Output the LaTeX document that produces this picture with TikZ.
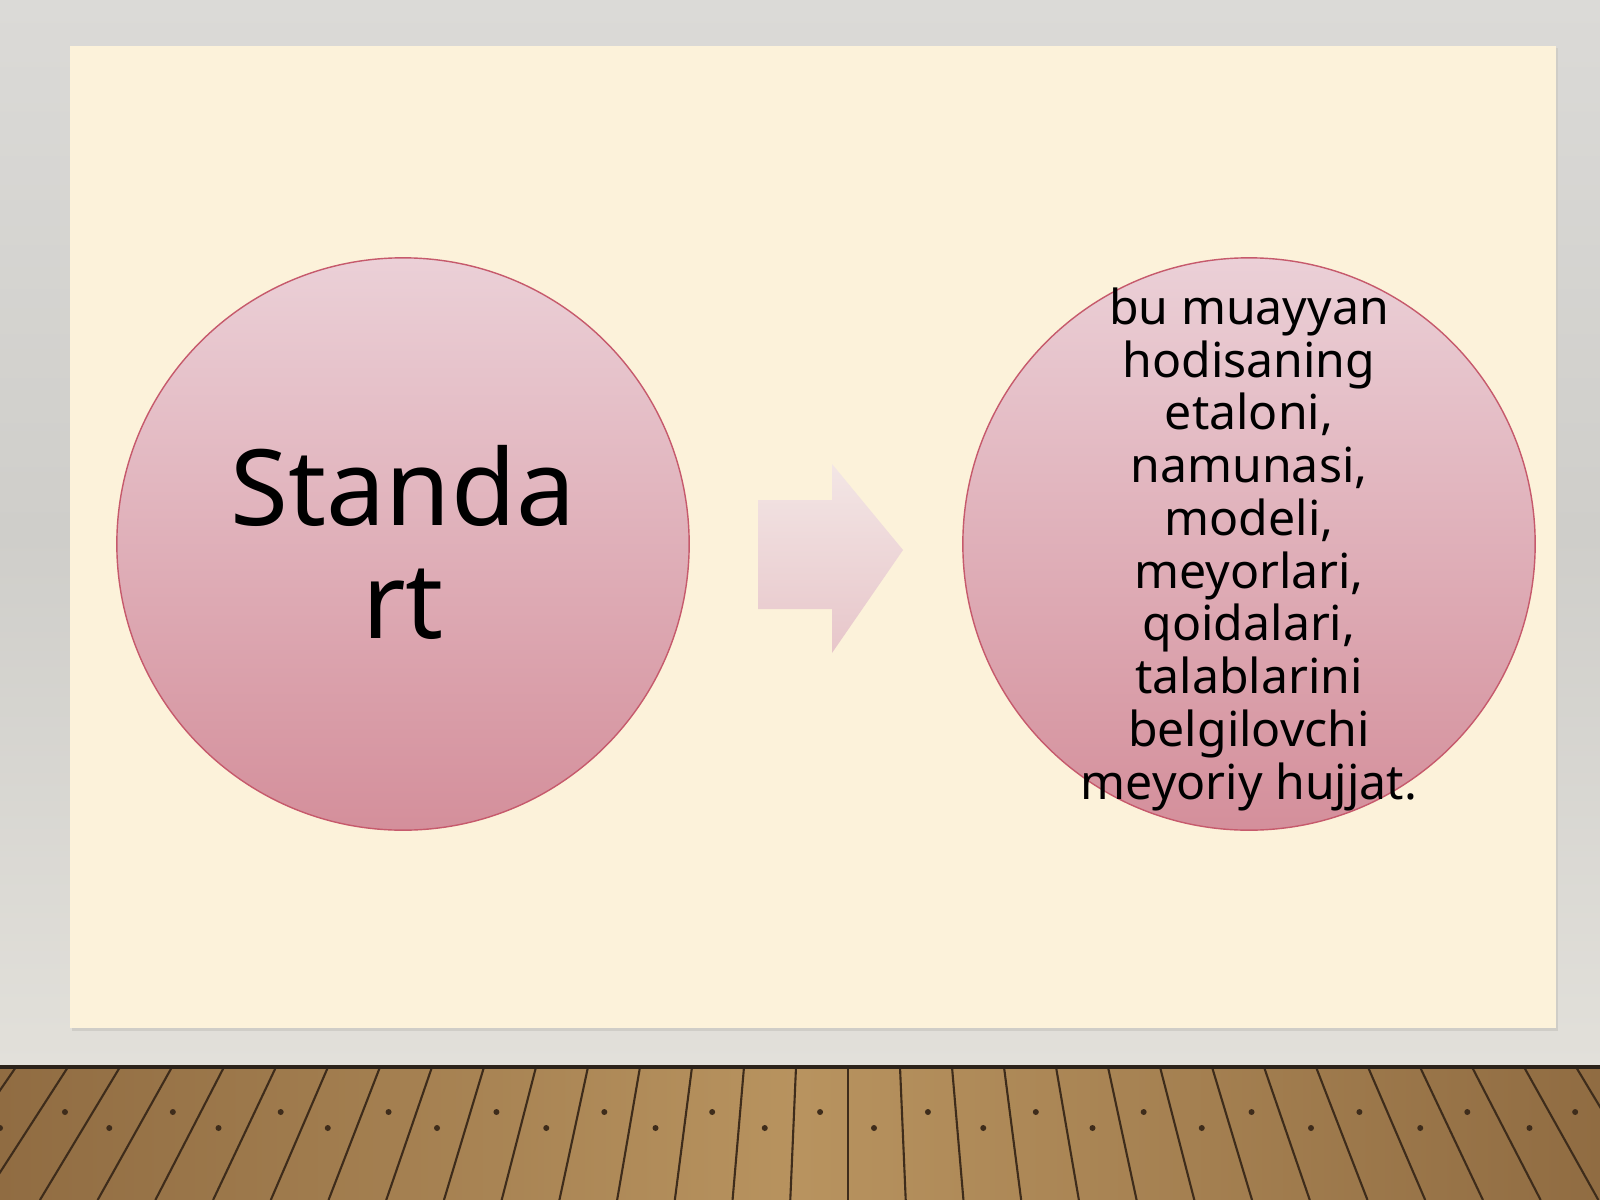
\documentclass[tikz,border=0pt]{standalone}
\usepackage{fontspec}
\setmainfont{Noto Sans}
\usepackage{xcolor}
\usepackage{tikz}
\usetikzlibrary{positioning}
\definecolor{walltop}{HTML}{DBDAD7}
\definecolor{wallmid}{HTML}{CFCECA}
\definecolor{wallbot}{HTML}{E2E0DA}
\definecolor{panel}{HTML}{FCF2DA}
\definecolor{panelshadow}{HTML}{CFCDC7}
\definecolor{bubbletop}{HTML}{EBD0D7}
\definecolor{bubblebot}{HTML}{D48F9B}
\definecolor{bubbleline}{HTML}{C65A6C}
\definecolor{arrowtop}{HTML}{F3E6E5}
\definecolor{arrowbot}{HTML}{E7C6CA}
\definecolor{floordark}{HTML}{906C42}
\definecolor{floorlight}{HTML}{B8935F}
\definecolor{plankline}{HTML}{3E2C1B}
\definecolor{flooredge}{HTML}{2B2219}
\tikzstyle{bubble} = [circle, minimum size=5.72cm, inner sep=0pt, draw=bubbleline, line width=0.4pt, top color=bubbletop, bottom color=bubblebot]
\tikzstyle{bigtext} = [align=center, font=\fontsize{30}{32}\selectfont, inner sep=0pt]
\tikzstyle{smalltext} = [align=center, font=\fontsize{13.7}{15}\selectfont, inner sep=0pt]
\tikzstyle{plank} = [draw=plankline, line width=0.6pt]
\tikzstyle{nail} = [fill=plankline]

\begin{document}
\begin{tikzpicture}[x=0.01cm, y=-0.01cm]
    \useasboundingbox (0,0) rectangle (1600,1200);
    % wall and floor
    \shade[top color=walltop, bottom color=wallbot, middle color=wallmid] (0,0) rectangle (1600,1067);
    \shade[left color=floordark, right color=floordark, middle color=floorlight] (0,1067) rectangle (1600,1200);
    \begin{scope}
      \clip (0,1067) rectangle (1600,1200);
      \foreach \t [count=\i] in {-400,-348,...,2100} {
        \draw[plank] (\t,1067) -- ({\t+(\t-848)*0.11},1200);
        \pgfmathsetmacro\ny{ifthenelse(mod(\i,2)==0,1112,1128)}
        \fill[nail] ({\t+26+(\t-848)*0.11*(\ny-1067)/133},\ny) circle (3);
      }
    \end{scope}
    \draw[flooredge, line width=1pt] (0,1067) -- (1600,1067);
    %
    \fill[panelshadow] (72,48) rectangle (1558,1031);
    \fill[panel] (70,46) rectangle (1556,1028);
    %
    \node(std) [bubble] at (403,544) {};
    \node(def) [bubble] at (1249,544) {};
    \shade[top color=arrowtop, bottom color=arrowbot] (758,500) -- (832,500) -- (832,464) -- (903,550) -- (832,653) -- (832,609) -- (758,609) -- cycle;
    %
    \node(stdtext) [bigtext, anchor=base] at (403,638) {Standa\\rt};
    \node(deftext) [smalltext, anchor=base] at (1249,799) {bu muayyan\\hodisaning\\etaloni,\\namunasi,\\modeli,\\meyorlari,\\qoidalari,\\talablarini\\belgilovchi\\meyoriy hujjat.};
\end{tikzpicture}
\end{document}
